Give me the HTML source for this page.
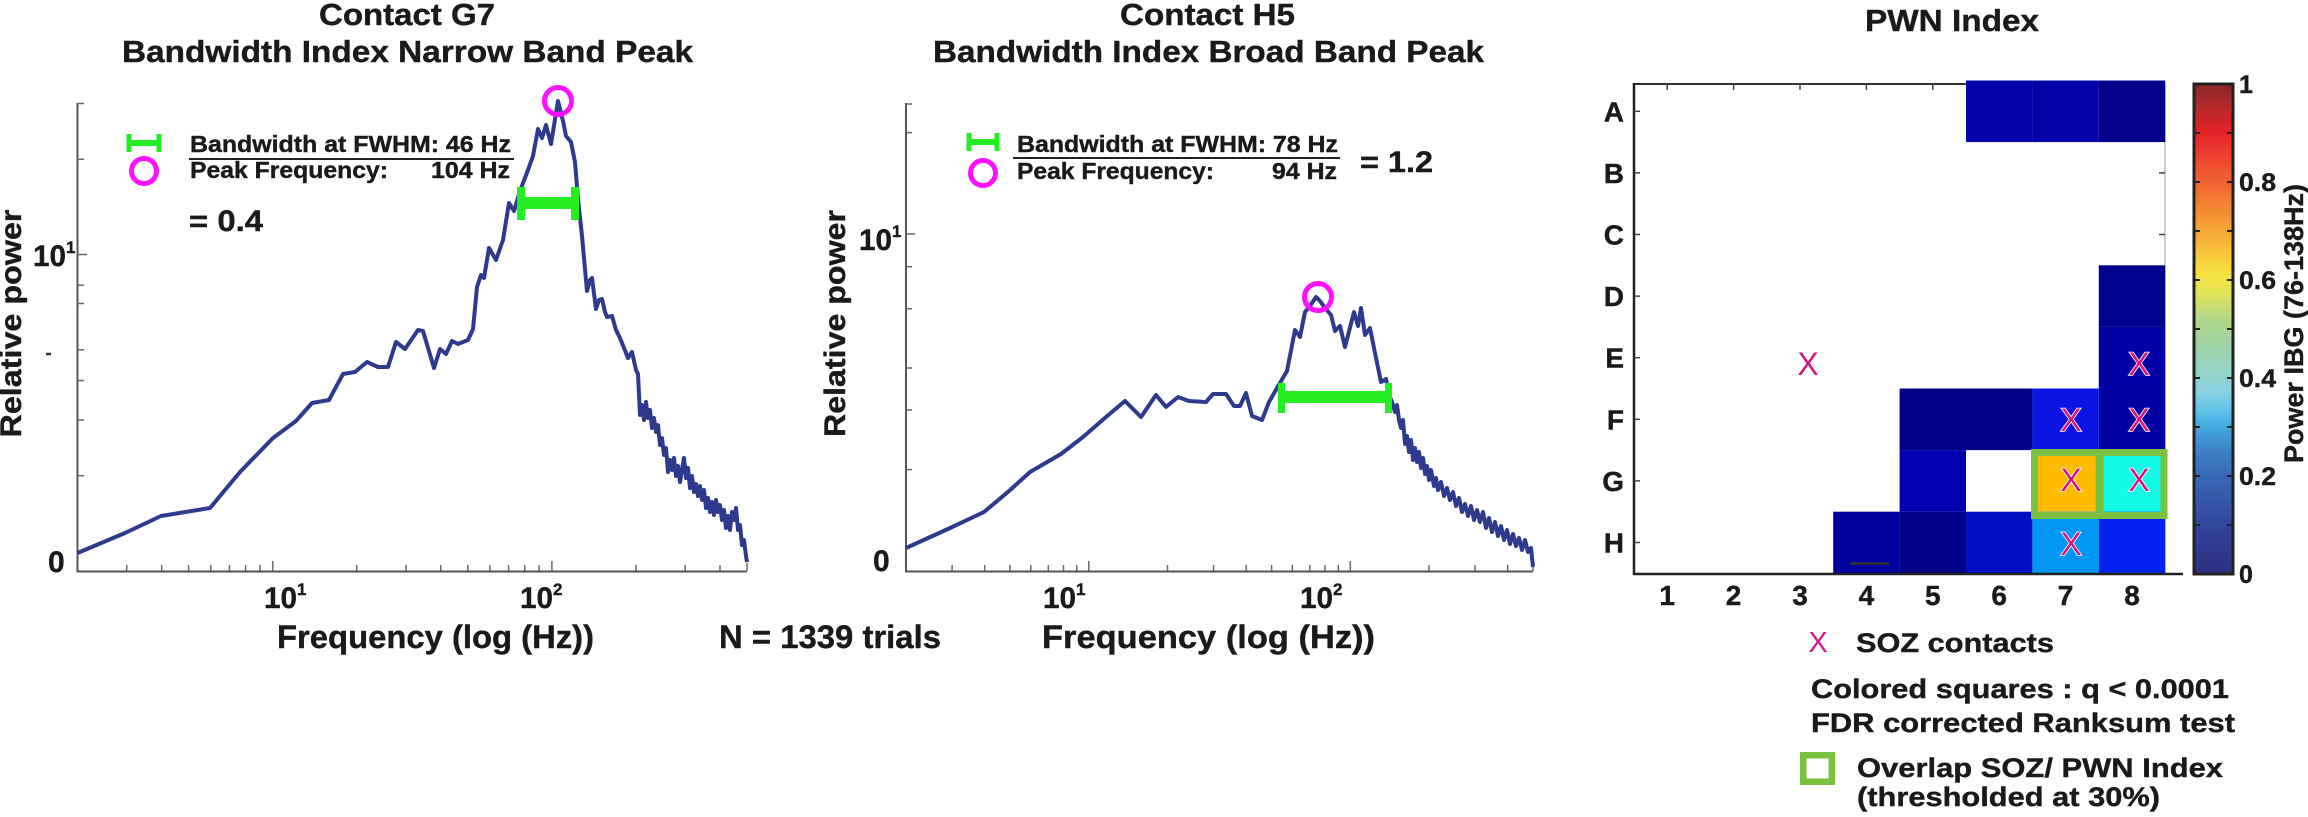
<!DOCTYPE html>
<html><head><meta charset="utf-8"><style>
html,body{margin:0;padding:0;background:#fff;}
svg{display:block;}
text{font-family:"Liberation Sans",Arial,sans-serif;font-weight:bold;fill:#1a1a1a;stroke:#1a1a1a;stroke-width:0.4;}
text.xm{font-weight:normal;fill:#d4157c;stroke:#ffffff;stroke-width:1.6;paint-order:stroke;}
text.xl{font-weight:normal;fill:#e0148a;stroke:none;}
</style></head><body>
<svg width="2308" height="817" viewBox="0 0 2308 817" xmlns="http://www.w3.org/2000/svg">
<defs>
<linearGradient id="cb" x1="0" y1="1" x2="0" y2="0">
<stop offset="0" stop-color="#2c2f80"/><stop offset="0.05" stop-color="#2f3a8e"/>
<stop offset="0.1" stop-color="#32479c"/><stop offset="0.15" stop-color="#3558a8"/>
<stop offset="0.2" stop-color="#3869b4"/><stop offset="0.25" stop-color="#3c82c4"/>
<stop offset="0.3" stop-color="#42a8de"/><stop offset="0.33" stop-color="#5cc0e8"/>
<stop offset="0.37" stop-color="#88d2e2"/><stop offset="0.42" stop-color="#98d4c4"/>
<stop offset="0.47" stop-color="#9ed3a2"/><stop offset="0.52" stop-color="#b0d88a"/>
<stop offset="0.57" stop-color="#e0e25a"/><stop offset="0.61" stop-color="#f6e33c"/>
<stop offset="0.66" stop-color="#f7c23a"/><stop offset="0.72" stop-color="#f59a35"/>
<stop offset="0.78" stop-color="#f26f32"/><stop offset="0.84" stop-color="#ee4a30"/>
<stop offset="0.9" stop-color="#e52228"/><stop offset="0.95" stop-color="#b82828"/>
<stop offset="1" stop-color="#8a2828"/>
</linearGradient>
</defs>

<!-- ===== LEFT CHART ===== -->
<text x="319" y="25" font-size="31" textLength="176" lengthAdjust="spacingAndGlyphs">Contact G7</text>
<text x="122" y="62" font-size="31" textLength="571" lengthAdjust="spacingAndGlyphs">Bandwidth Index Narrow Band Peak</text>

<g stroke="#555" stroke-width="2" fill="none">
<line x1="77.5" y1="103" x2="77.5" y2="572"/>
<line x1="76.5" y1="571.5" x2="747" y2="571.5"/>
</g>
<g stroke="#666" stroke-width="1.5">
<line x1="126.7" y1="571" x2="126.7" y2="565"/><line x1="161.7" y1="571" x2="161.7" y2="565"/>
<line x1="188.6" y1="571" x2="188.6" y2="565"/><line x1="210.7" y1="571" x2="210.7" y2="565"/>
<line x1="229.4" y1="571" x2="229.4" y2="565"/><line x1="245.6" y1="571" x2="245.6" y2="565"/>
<line x1="259.9" y1="571" x2="259.9" y2="565"/><line x1="272.7" y1="571" x2="272.7" y2="561"/>
<line x1="356.7" y1="571" x2="356.7" y2="565"/><line x1="405.9" y1="571" x2="405.9" y2="565"/>
<line x1="440.8" y1="571" x2="440.8" y2="565"/><line x1="467.8" y1="571" x2="467.8" y2="565"/>
<line x1="489.9" y1="571" x2="489.9" y2="565"/><line x1="508.6" y1="571" x2="508.6" y2="565"/>
<line x1="524.8" y1="571" x2="524.8" y2="565"/><line x1="539.1" y1="571" x2="539.1" y2="565"/>
<line x1="551.9" y1="571" x2="551.9" y2="561"/><line x1="636" y1="571" x2="636" y2="565"/>
<line x1="685.2" y1="571" x2="685.2" y2="565"/><line x1="720" y1="571" x2="720" y2="565"/>
<line x1="747" y1="571" x2="747" y2="563"/>
<line x1="77.5" y1="103.5" x2="84" y2="103.5"/><line x1="77.5" y1="159.3" x2="84" y2="159.3"/>
<line x1="77.5" y1="254.5" x2="87" y2="254.5"/><line x1="77.5" y1="285.2" x2="84" y2="285.2"/>
<line x1="77.5" y1="303.5" x2="84" y2="303.5"/><line x1="77.5" y1="349.8" x2="84" y2="349.8"/>
<line x1="77.5" y1="380.5" x2="84" y2="380.5"/><line x1="77.5" y1="420" x2="84" y2="420"/>
<line x1="77.5" y1="475.7" x2="84" y2="475.7"/>
</g>
<line x1="46" y1="354" x2="51" y2="354" stroke="#333" stroke-width="2.5"/>

<text x="33" y="266" font-size="30" textLength="33" lengthAdjust="spacingAndGlyphs">10</text>
<text x="66" y="253" font-size="17">1</text>
<text x="48" y="572" font-size="30">0</text>
<text x="264" y="608" font-size="30" textLength="33" lengthAdjust="spacingAndGlyphs">10</text>
<text x="297" y="595" font-size="17">1</text>
<text x="520" y="608" font-size="30" textLength="33" lengthAdjust="spacingAndGlyphs">10</text>
<text x="553" y="595" font-size="17">2</text>

<text x="277" y="648" font-size="32" textLength="317" lengthAdjust="spacingAndGlyphs">Frequency (log (Hz))</text>
<text transform="translate(21,323.5) rotate(-90)" x="0" y="0" font-size="30" text-anchor="middle" textLength="228" lengthAdjust="spacingAndGlyphs">Relative power</text>

<g stroke="#22ee22" fill="none">
<line x1="127" y1="143" x2="161" y2="143" stroke-width="6"/>
<line x1="129" y1="134" x2="129" y2="152" stroke-width="5"/>
<line x1="159" y1="134" x2="159" y2="152" stroke-width="5"/>
</g>
<circle cx="144" cy="171" r="12.5" fill="none" stroke="#ff10ff" stroke-width="5"/>
<text x="190" y="152" font-size="23" textLength="321" lengthAdjust="spacingAndGlyphs">Bandwidth at FWHM: 46 Hz</text>
<line x1="189" y1="159" x2="514" y2="159" stroke="#222" stroke-width="2"/>
<text x="190" y="178" font-size="23" textLength="198" lengthAdjust="spacingAndGlyphs">Peak Frequency:</text>
<text x="431" y="178" font-size="23" textLength="79" lengthAdjust="spacingAndGlyphs">104 Hz</text>
<text x="189" y="231" font-size="30" textLength="74" lengthAdjust="spacingAndGlyphs">= 0.4</text>

<path fill="none" stroke="#2d3a8e" stroke-width="4" stroke-linejoin="round" d="M77.5,553 L125,533 L161,516 L210,508 L240,472 L273,438 L296,421 L312,403 L329,400 L343,374 L355,372 L367,362 L378,367 L388,367 L396,342 L405,349 L418,330 L423,331 L434,368 L440,349 L446,354 L452,341 L458,344 L468,340 L473,329 L477,287 L481,275 L484,278 L489,248 L496,260 L503,240 L509,203 L514,211 L520,191 L528,170 L533,156 L538,129 L542,138 L546,125 L551,144 L558,101 L563,121 L566,136 L571,142 L575,162 L578,199 L582,236 L587,291 L590,280 L592,278 L596,309 L599,300 L602,299 L605,312 L607,317 L612,316 L616,330 L620,338 L624,348 L628,358 L632,352 L636,370 L638,374 L640,415 L642,405 L644,420 L646,402 L648,418 L650,410 L652,428 L654,418 L656,432 L658,425 L660,445 L662,438 L664,455 L666,448 L668,472 L670,460 L672,470 L674,458 L676,476 L678,466 L680,482 L682,470 L684,458 L686,478 L688,468 L690,488 L692,476 L694,492 L696,484 L698,496 L700,486 L702,500 L704,490 L706,508 L708,498 L710,512 L712,502 L714,515 L716,500 L718,512 L720,505 L722,520 L724,510 L726,528 L728,516 L730,530 L732,512 L734,520 L736,508 L738,530 L740,525 L742,545 L744,540 L746,556 L747,562"/>

<g stroke="#22ee22" fill="none">
<line x1="517" y1="203" x2="579" y2="203" stroke-width="12"/>
<line x1="521" y1="187" x2="521" y2="220" stroke-width="8"/>
<line x1="575" y1="187" x2="575" y2="220" stroke-width="8"/>
</g>
<circle cx="558" cy="101" r="13.5" fill="none" stroke="#ff10ff" stroke-width="5"/>

<!-- ===== MIDDLE CHART ===== -->
<text x="1120" y="25" font-size="31" textLength="175" lengthAdjust="spacingAndGlyphs">Contact H5</text>
<text x="933" y="62" font-size="31" textLength="551" lengthAdjust="spacingAndGlyphs">Bandwidth Index Broad Band Peak</text>

<g stroke="#555" stroke-width="2" fill="none">
<line x1="906" y1="103" x2="906" y2="572"/>
<line x1="905" y1="571.5" x2="1533" y2="571.5"/>
</g>
<g stroke="#666" stroke-width="1.5">
<line x1="952.1" y1="571" x2="952.1" y2="565"/><line x1="984.7" y1="571" x2="984.7" y2="565"/>
<line x1="1010.1" y1="571" x2="1010.1" y2="565"/><line x1="1030.8" y1="571" x2="1030.8" y2="565"/>
<line x1="1048.3" y1="571" x2="1048.3" y2="565"/><line x1="1063.5" y1="571" x2="1063.5" y2="565"/>
<line x1="1076.8" y1="571" x2="1076.8" y2="565"/><line x1="1088.8" y1="571" x2="1088.8" y2="561"/>
<line x1="1167.5" y1="571" x2="1167.5" y2="565"/><line x1="1213.5" y1="571" x2="1213.5" y2="565"/>
<line x1="1246.2" y1="571" x2="1246.2" y2="565"/><line x1="1271.6" y1="571" x2="1271.6" y2="565"/>
<line x1="1292.3" y1="571" x2="1292.3" y2="565"/><line x1="1309.8" y1="571" x2="1309.8" y2="565"/>
<line x1="1325" y1="571" x2="1325" y2="565"/><line x1="1338.3" y1="571" x2="1338.3" y2="565"/>
<line x1="1350.3" y1="571" x2="1350.3" y2="561"/><line x1="1429" y1="571" x2="1429" y2="565"/>
<line x1="1475" y1="571" x2="1475" y2="565"/><line x1="1507.7" y1="571" x2="1507.7" y2="565"/>
<line x1="1533" y1="571" x2="1533" y2="563"/>
<line x1="906" y1="104" x2="912" y2="104"/><line x1="906" y1="132.6" x2="912" y2="132.6"/>
<line x1="906" y1="234" x2="915" y2="234"/><line x1="906" y1="266.7" x2="912" y2="266.7"/>
<line x1="906" y1="308.8" x2="912" y2="308.8"/><line x1="906" y1="368" x2="912" y2="368"/>
<line x1="906" y1="410" x2="912" y2="410"/><line x1="906" y1="469.6" x2="912" y2="469.6"/>
</g>

<text x="859" y="250" font-size="30" textLength="33" lengthAdjust="spacingAndGlyphs">10</text>
<text x="892" y="237" font-size="17">1</text>
<text x="873" y="571" font-size="30">0</text>
<text x="1043" y="608" font-size="30" textLength="33" lengthAdjust="spacingAndGlyphs">10</text>
<text x="1076" y="595" font-size="17">1</text>
<text x="1300" y="608" font-size="30" textLength="33" lengthAdjust="spacingAndGlyphs">10</text>
<text x="1333" y="595" font-size="17">2</text>

<text x="1042" y="648" font-size="32" textLength="333" lengthAdjust="spacingAndGlyphs">Frequency (log (Hz))</text>
<text x="719" y="648" font-size="32" textLength="222" lengthAdjust="spacingAndGlyphs">N = 1339 trials</text>
<text transform="translate(845,323.5) rotate(-90)" x="0" y="0" font-size="30" text-anchor="middle" textLength="227" lengthAdjust="spacingAndGlyphs">Relative power</text>

<g stroke="#22ee22" fill="none">
<line x1="967" y1="142" x2="999" y2="142" stroke-width="6"/>
<line x1="969" y1="133" x2="969" y2="151" stroke-width="5"/>
<line x1="997" y1="133" x2="997" y2="151" stroke-width="5"/>
</g>
<circle cx="983" cy="173" r="12.5" fill="none" stroke="#ff10ff" stroke-width="5"/>
<text x="1017" y="152" font-size="23" textLength="321" lengthAdjust="spacingAndGlyphs">Bandwidth at FWHM: 78 Hz</text>
<line x1="1013" y1="158" x2="1340" y2="158" stroke="#222" stroke-width="2"/>
<text x="1017" y="179" font-size="23" textLength="197" lengthAdjust="spacingAndGlyphs">Peak Frequency:</text>
<text x="1272" y="179" font-size="23" textLength="65" lengthAdjust="spacingAndGlyphs">94 Hz</text>
<text x="1360" y="172" font-size="30" textLength="73" lengthAdjust="spacingAndGlyphs">= 1.2</text>

<path fill="none" stroke="#2d3a8e" stroke-width="4" stroke-linejoin="round" d="M906,548 L948,529 L984,512 L1009,491 L1030,472 L1061,454 L1083,437 L1106,417 L1125,401 L1141,417 L1156,395 L1166,407 L1178,397 L1189,401 L1206,402 L1213,394 L1226,394 L1234,406 L1240,406 L1246,393 L1252,416 L1262,420 L1269,402 L1277,388 L1287,371 L1295,330 L1300,337 L1305,312 L1310,306 L1316,297 L1320,301 L1325,308 L1331,315 L1335,331 L1340,326 L1345,347 L1354,312 L1358,326 L1361,308 L1365,335 L1370,328 L1375,353 L1381,382 L1386,379 L1389,395 L1392,402 L1395,412 L1397,405 L1399,420 L1401,428 L1403,420 L1405,444 L1407,436 L1409,452 L1411,440 L1413,460 L1415,448 L1417,462 L1419,452 L1421,468 L1423,458 L1425,474 L1427,466 L1429,480 L1431,470 L1434,486 L1436,478 L1438,490 L1441,482 L1444,496 L1447,488 L1450,500 L1453,492 L1456,506 L1459,498 L1462,512 L1465,504 L1468,516 L1471,506 L1474,520 L1477,510 L1480,522 L1483,512 L1486,528 L1489,518 L1492,532 L1495,522 L1498,536 L1501,526 L1504,540 L1507,530 L1510,544 L1513,534 L1516,546 L1519,538 L1522,550 L1525,540 L1528,552 L1531,548 L1533,567"/>

<g stroke="#22ee22" fill="none">
<line x1="1278" y1="397" x2="1392" y2="397" stroke-width="12"/>
<line x1="1281.5" y1="383" x2="1281.5" y2="413" stroke-width="7"/>
<line x1="1388.5" y1="383" x2="1388.5" y2="413" stroke-width="7"/>
</g>
<circle cx="1318" cy="297" r="13.5" fill="none" stroke="#ff10ff" stroke-width="5"/>

<!-- ===== HEATMAP ===== -->
<text x="1865" y="31" font-size="31" textLength="174" lengthAdjust="spacingAndGlyphs">PWN Index</text>

<line x1="1634" y1="84" x2="2165" y2="84" stroke="#333" stroke-width="2"/>
<line x1="2165" y1="84" x2="2165" y2="574" stroke="#999" stroke-width="1"/>

<g>
<rect x="1966" y="80.5" width="66.4" height="61.6" fill="#0303aa"/>
<rect x="2032.4" y="80.5" width="66.4" height="61.6" fill="#0303aa"/>
<rect x="2098.8" y="80.5" width="66.4" height="61.6" fill="#01018c"/>
<rect x="2098.8" y="265.3" width="66.4" height="61.6" fill="#00008e"/>
<rect x="2098.8" y="326.9" width="66.4" height="61.6" fill="#0000a6"/>
<rect x="1899.6" y="388.5" width="66.4" height="61.6" fill="#000088"/>
<rect x="1966" y="388.5" width="66.4" height="61.6" fill="#000088"/>
<rect x="2032.4" y="388.5" width="66.4" height="61.6" fill="#0a14e4"/>
<rect x="2098.8" y="388.5" width="66.4" height="61.6" fill="#0000a2"/>
<rect x="1899.6" y="450.1" width="66.4" height="61.6" fill="#0000b2"/>
<rect x="2032.4" y="450.1" width="66.4" height="61.6" fill="#ffbb00"/>
<rect x="2098.8" y="450.1" width="66.4" height="61.6" fill="#12fbe6"/>
<rect x="1833.2" y="511.7" width="66.4" height="61.6" fill="#00009e"/>
<rect x="1899.6" y="511.7" width="66.4" height="61.6" fill="#000088"/>
<rect x="1966" y="511.7" width="66.4" height="61.6" fill="#000ec0"/>
<rect x="2032.4" y="511.7" width="66.4" height="61.6" fill="#0096f4"/>
<rect x="2098.8" y="511.7" width="66.4" height="61.6" fill="#0522ee"/>
</g>
<line x1="1850" y1="563.5" x2="1889" y2="563.5" stroke="#333" stroke-width="2.5"/>

<g fill="none" stroke="#7ac142" stroke-width="7">
<rect x="2034.5" y="452.5" width="64.5" height="63"/>
<rect x="2100" y="452.5" width="64" height="63"/>
</g>

<g stroke="#222" stroke-width="2.5">
<line x1="1634" y1="83" x2="1634" y2="575"/>
<line x1="1633" y1="574" x2="2183" y2="574"/>
</g>
<g stroke="#444" stroke-width="1.5">
<line x1="1634" y1="111.3" x2="1640" y2="111.3"/><line x1="1634" y1="172.9" x2="1640" y2="172.9"/>
<line x1="1634" y1="234.5" x2="1640" y2="234.5"/><line x1="1634" y1="296.1" x2="1640" y2="296.1"/>
<line x1="1634" y1="357.7" x2="1640" y2="357.7"/><line x1="1634" y1="419.3" x2="1640" y2="419.3"/>
<line x1="1634" y1="480.9" x2="1640" y2="480.9"/><line x1="1634" y1="542.5" x2="1640" y2="542.5"/>
<line x1="1667.2" y1="84" x2="1667.2" y2="90"/><line x1="1733.6" y1="84" x2="1733.6" y2="90"/>
<line x1="1800" y1="84" x2="1800" y2="90"/><line x1="1866.4" y1="84" x2="1866.4" y2="90"/>
<line x1="1932.8" y1="84" x2="1932.8" y2="90"/>
<line x1="2165" y1="172.9" x2="2159" y2="172.9"/><line x1="2165" y1="234.5" x2="2159" y2="234.5"/>
</g>

<g font-size="28" text-anchor="end">
<text x="1624" y="121.3">A</text><text x="1624" y="182.9">B</text>
<text x="1624" y="244.5">C</text><text x="1624" y="306.1">D</text>
<text x="1624" y="367.7">E</text><text x="1624" y="429.3">F</text>
<text x="1624" y="490.9">G</text><text x="1624" y="552.5">H</text>
</g>
<g font-size="28" text-anchor="middle">
<text x="1667.2" y="605">1</text><text x="1733.6" y="605">2</text>
<text x="1800" y="605">3</text><text x="1866.4" y="605">4</text>
<text x="1932.8" y="605">5</text><text x="1999.2" y="605">6</text>
<text x="2065.6" y="605">7</text><text x="2132" y="605">8</text>
</g>

<g font-size="32" text-anchor="middle">
<text class="xm" x="1808" y="375">X</text>
<text class="xm" x="2139" y="375">X</text>
<text class="xm" x="2071" y="431">X</text>
<text class="xm" x="2139" y="431">X</text>
<text class="xm" x="2071" y="491">X</text>
<text class="xm" x="2139" y="491">X</text>
<text class="xm" x="2071" y="555">X</text>
</g>

<rect x="2194" y="84" width="39" height="490" fill="url(#cb)" stroke="#222" stroke-width="3"/>
<g stroke="#222" stroke-width="2">
<line x1="2195" y1="525" x2="2200" y2="525"/><line x1="2227" y1="525" x2="2232" y2="525"/>
<line x1="2195" y1="476" x2="2200" y2="476"/><line x1="2227" y1="476" x2="2232" y2="476"/>
<line x1="2195" y1="427" x2="2200" y2="427"/><line x1="2227" y1="427" x2="2232" y2="427"/>
<line x1="2195" y1="378" x2="2200" y2="378"/><line x1="2227" y1="378" x2="2232" y2="378"/>
<line x1="2195" y1="329" x2="2200" y2="329"/><line x1="2227" y1="329" x2="2232" y2="329"/>
<line x1="2195" y1="280" x2="2200" y2="280"/><line x1="2227" y1="280" x2="2232" y2="280"/>
<line x1="2195" y1="231" x2="2200" y2="231"/><line x1="2227" y1="231" x2="2232" y2="231"/>
<line x1="2195" y1="182" x2="2200" y2="182"/><line x1="2227" y1="182" x2="2232" y2="182"/>
<line x1="2195" y1="133" x2="2200" y2="133"/><line x1="2227" y1="133" x2="2232" y2="133"/>
</g>
<g font-size="25">
<text x="2239" y="93">1</text>
<text x="2239" y="191" textLength="37" lengthAdjust="spacingAndGlyphs">0.8</text>
<text x="2239" y="289" textLength="37" lengthAdjust="spacingAndGlyphs">0.6</text>
<text x="2239" y="387" textLength="37" lengthAdjust="spacingAndGlyphs">0.4</text>
<text x="2239" y="485" textLength="37" lengthAdjust="spacingAndGlyphs">0.2</text>
<text x="2239" y="583">0</text>
</g>
<text transform="translate(2303,323.5) rotate(-90)" x="0" y="0" font-size="27" text-anchor="middle" textLength="279" lengthAdjust="spacingAndGlyphs">Power IBG (76-138Hz)</text>

<text class="xl" x="1818" y="652" font-size="29" text-anchor="middle">X</text>
<text x="1856" y="652" font-size="27" textLength="198" lengthAdjust="spacingAndGlyphs">SOZ contacts</text>
<text x="1811" y="698" font-size="27" textLength="418" lengthAdjust="spacingAndGlyphs">Colored squares : q &lt; 0.0001</text>
<text x="1811" y="732" font-size="27" textLength="424" lengthAdjust="spacingAndGlyphs">FDR corrected Ranksum test</text>
<rect x="1803.25" y="755.25" width="28.5" height="26.5" fill="#fff" stroke="#7ac142" stroke-width="6.5"/>
<text x="1857" y="777" font-size="27" textLength="366" lengthAdjust="spacingAndGlyphs">Overlap SOZ/ PWN Index</text>
<text x="1857" y="806" font-size="27" textLength="303" lengthAdjust="spacingAndGlyphs">(thresholded at 30%)</text>
</svg>
</body></html>
